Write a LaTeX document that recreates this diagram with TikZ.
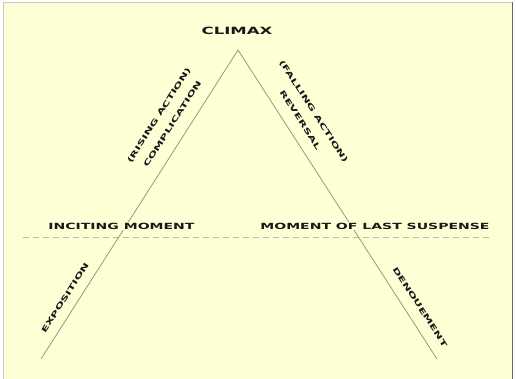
\documentclass[tikz,border=0pt]{standalone}
\usepackage{fontspec}
\newfontfamily\plotfont{DejaVu Sans Bold}[FakeStretch=1.65]
\definecolor{paper}{RGB}{255,255,214}
\definecolor{edge}{RGB}{150,152,120}
\definecolor{dashgray}{RGB}{185,186,160}
\definecolor{ink}{RGB}{25,25,25}
\begin{document}
\begin{tikzpicture}[x=1pt, y=1pt,
    lbl/.style={text=ink, font=\plotfont\fontsize{8.5}{10}\selectfont, inner sep=1pt},
    flat/.style={lbl, fill=paper},
    tilt/.style={lbl, align=center, font=\plotfont\fontsize{7.2}{16}\selectfont}]
    % Khung nền
    \useasboundingbox (0,0) rectangle (516,379);
    \fill[white] (0,0) rectangle (516,379);
    \fill[paper] (3,0) rectangle (512,377);
    \draw[gray!45] (3,0) -- (3,377) -- (512,377);
    \draw[gray!80!black, line width=1.2pt] (512.5,377) -- (512.5,0);

    % Các đỉnh của hình tam giác
    \coordinate (apex) at (238, 329);
    \coordinate (expo) at (41, 20);
    \coordinate (deno) at (437, 20);
    \coordinate (cutL) at (23, 142);
    \coordinate (cutR) at (490, 142);

    % Đường nét đứt nằm ngang
    \draw[dashgray, thick, dash pattern=on 6pt off 4pt] (cutL) -- (cutR);

    % Hai cạnh của tam giác
    \draw[edge, thick] (expo) -- (apex) -- (deno);

    % Nhãn nằm ngang
    \node[lbl, font=\plotfont\fontsize{10}{12}\selectfont] (climax) at (237, 348) {CLIMAX};
    \node[flat] (incite) at (121.5, 153) {INCITING MOMENT};
    \node[flat] (suspense) at (375, 153) {MOMENT OF LAST SUSPENSE};

    % Nhãn nghiêng theo cạnh trái
    \node[tilt, rotate=57.5] (rising) at (165.5, 259.4) {(RISING ACTION)\\COMPLICATION};
    \node[tilt, rotate=57.5] (exposit) at (65, 81) {EXPOSITION};

    % Nhãn nghiêng theo cạnh phải
    \node[tilt, rotate=-57.2] (falling) at (307.1, 263.3) {(FALLING ACTION)\\REVERSAL};
    \node[tilt, rotate=-57.2] (denoue) at (420, 72) {DENOUEMENT};
\end{tikzpicture}
\end{document}
